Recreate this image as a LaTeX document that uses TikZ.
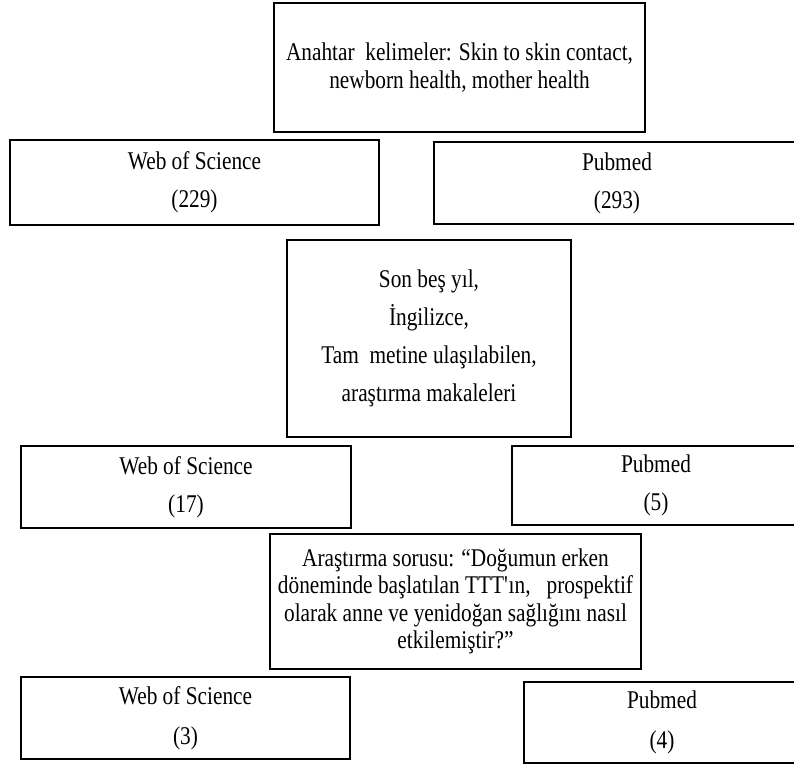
\documentclass[tikz,border=0pt]{standalone}
\usepackage{fontspec}
\setmainfont[FakeStretch=0.836]{Liberation Serif}
\newcommand\tightlines{\fontsize{25.5}{27.5}\selectfont}
\newcommand\looselines{\fontsize{25.5}{38}\selectfont}
\begin{document}
\begin{tikzpicture}[x=1pt,y=-1pt]
	\useasboundingbox (0,0) rectangle (794,765);
	\clip (0,0) rectangle (794,765);
	\begin{scope}[line width=2pt]
		\tikzstyle{every node}=[draw,line width=2pt,inner sep=0pt,align=center,font=\looselines];
		\path (459.5, 67.5) node [minimum width=371pt,minimum height=129pt,font=\tightlines] (keywords) {Anahtar~~kelimeler: Skin to skin contact,\\newborn health, mother health};
		\path (194.5,182.5) node [minimum width=369pt,minimum height=85pt] (wosA) {Web of Science\\(229)};
		\path (617  ,183  ) node [minimum width=366pt,minimum height=82pt] (pubmedA) {Pubmed\\(293)};
		\path (429  ,338.5) node [minimum width=284pt,minimum height=197pt] (filters) {Son beş yıl,\\İngilizce,\\Tam~~metine ulaşılabilen,\\araştırma makaleleri};
		\path (186  ,487  ) node [minimum width=330pt,minimum height=82pt] (wosB) {Web of Science\\(17)};
		\path (656  ,485.5) node [minimum width=288pt,minimum height=79pt] (pubmedB) {Pubmed\\(5)};
		\path (455.5,601.5) node [minimum width=371pt,minimum height=135pt,font=\tightlines] (question) {Araştırma sorusu: “Doğumun erken\\döneminde başlatılan TTT\textquotesingle ın,~~~prospektif\\olarak anne ve yenidoğan~sağlığını nasıl\\etkilemiştir?”};
		\path (185.5,718  ) node [minimum width=329pt,minimum height=82pt,font=\fontsize{25.5}{40}\selectfont] (wosC) {Web of Science\\(3)};
		\path (662  ,722.5) node [minimum width=276pt,minimum height=81pt,font=\fontsize{25.5}{40}\selectfont] (pubmedC) {Pubmed\\(4)};
	\end{scope}
\end{tikzpicture}
\end{document}
